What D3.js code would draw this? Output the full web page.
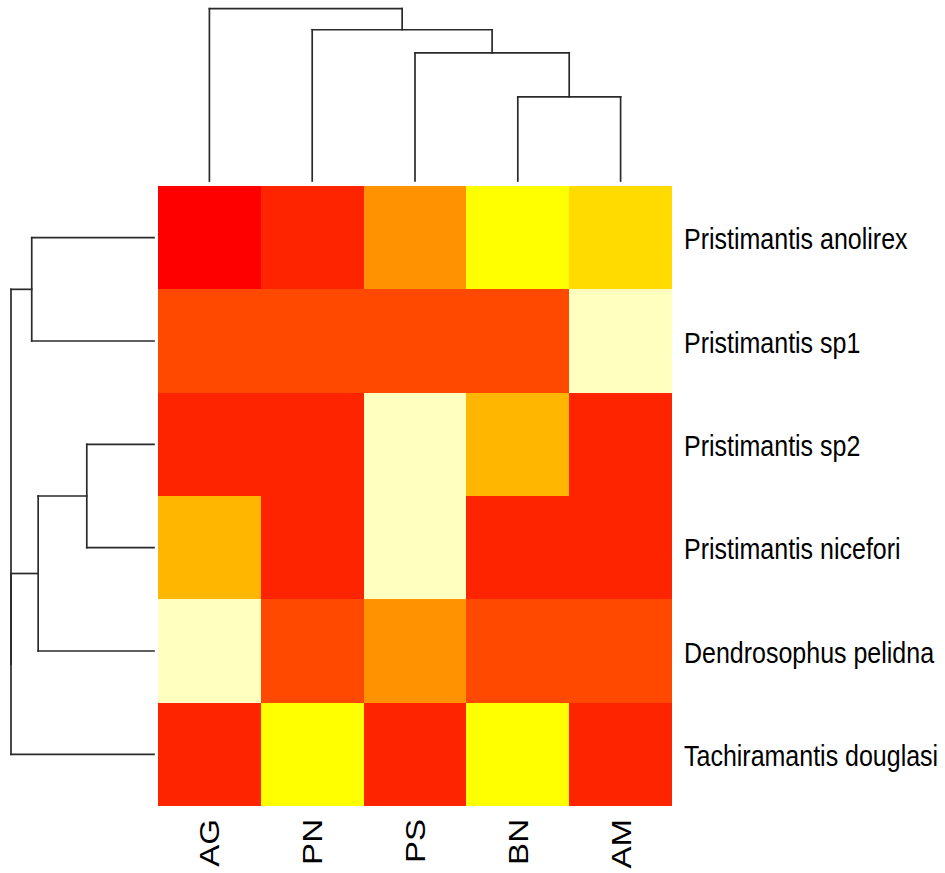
<!DOCTYPE html>
<html>
<head>
<meta charset="utf-8">
<script src="https://cdn.jsdelivr.net/npm/d3@7"></script>
<style>
  html, body { margin: 0; padding: 0; background: #fff; }
  svg { display: block; }
  text { font-family: "Liberation Sans", Arial, sans-serif; fill: #000; }
</style>
</head>
<body>
<svg id="chart" width="945" height="873"></svg>
<script>
// Species (rows) and sites (columns), in dendrogram order
const rows = [
  "Pristimantis anolirex",
  "Pristimantis sp1",
  "Pristimantis sp2",
  "Pristimantis nicefori",
  "Dendrosophus pelidna",
  "Tachiramantis douglasi"
];
const columns = ["AG", "PN", "PS", "BN", "AM"];

// Scaled abundance level per cell (1 = highest, 10 = lowest), one array per species
const anolirex   = [1, 2, 5, 8, 7];
const sp1        = [3, 3, 3, 3, 10];
const sp2        = [2, 2, 10, 6, 2];
const nicefori   = [6, 2, 10, 2, 2];
const pelidna    = [10, 3, 5, 3, 3];
const douglasi   = [2, 8, 2, 8, 2];
const values = [anolirex, sp1, sp2, nicefori, pelidna, douglasi];

// Hierarchical clustering, hclust-style merge tables:
// negative = leaf (1-based index), positive = earlier merge step
const rowMerge = [[-3, -4], [1, -5], [-1, -2], [2, -6], [3, 4]];
const rowHeights = [4.7, 8.1, 8.55, 10, 10];
const colMerge = [[-4, -5], [-3, 1], [-2, 2], [-1, 3]];
const colHeights = [8.4, 12.8, 15.1, 17.2];

// heat.colors(10) palette
const heatColors = ["#FF0000", "#FF2400", "#FF4900", "#FF6D00", "#FF9200",
                    "#FFB600", "#FFDB00", "#FFFF00", "#FFFF40", "#FFFFBF"];

const svg = d3.select("#chart");
svg.append("rect").attr("width", 945).attr("height", 873).attr("fill", "#fff");

const x = d3.scaleBand().domain(columns).range([158, 672]).padding(0);
const y = d3.scaleBand().domain(rows).range([186, 806]).padding(0);
const color = d3.scaleOrdinal().domain(d3.range(1, 11)).range(heatColors);

// Heatmap cells
const cells = [];
values.forEach((vals, i) => vals.forEach((v, j) => cells.push({ r: rows[i], c: columns[j], v })));
svg.append("g").selectAll("rect").data(cells).join("rect")
  .attr("x", d => x(d.c))
  .attr("y", d => y(d.r))
  .attr("width", x.bandwidth())
  .attr("height", y.bandwidth())
  .attr("fill", d => color(d.v))
  .attr("shape-rendering", "crispEdges");

// Dendrogram segments from a merge table (node sits midway between its children)
function buildDendro(merge, heights, leafPos) {
  const nodes = [];
  const segs = [];
  const get = k => k < 0 ? { pos: leafPos(-k - 1), h: 0 } : nodes[k - 1];
  merge.forEach((m, i) => {
    const a = get(m[0]), b = get(m[1]), h = heights[i];
    segs.push({ p1: a.pos, h1: a.h, p2: a.pos, h2: h });
    segs.push({ p1: a.pos, h1: h, p2: b.pos, h2: h });
    segs.push({ p1: b.pos, h1: h, p2: b.pos, h2: b.h });
    nodes.push({ pos: (a.pos + b.pos) / 2, h });
  });
  return segs;
}

const lineColor = "#2a2a2a";
const lineWidth = 1.7;

// Column dendrogram (top)
const colH = d3.scaleLinear().domain([0, d3.max(colHeights)]).range([181, 8.7]);
const colSegs = buildDendro(colMerge, colHeights, i => x(columns[i]) + x.bandwidth() / 2);
svg.append("g").selectAll("line").data(colSegs).join("line")
  .attr("x1", d => d.p1).attr("y1", d => colH(d.h1))
  .attr("x2", d => d.p2).attr("y2", d => colH(d.h2))
  .attr("stroke", lineColor).attr("stroke-width", lineWidth).attr("stroke-linecap", "square");

// Row dendrogram (left)
const rowH = d3.scaleLinear().domain([0, d3.max(rowHeights)]).range([154, 11]);
const rowSegs = buildDendro(rowMerge, rowHeights, i => y(rows[i]) + y.bandwidth() / 2);
svg.append("g").selectAll("line").data(rowSegs).join("line")
  .attr("x1", d => rowH(d.h1)).attr("y1", d => d.p1)
  .attr("x2", d => rowH(d.h2)).attr("y2", d => d.p2)
  .attr("stroke", lineColor).attr("stroke-width", lineWidth).attr("stroke-linecap", "square");

// Row labels (right side)
const rowFont = 25;
svg.append("g").selectAll("text").data(rows).join("text")
  .attr("transform", d => `translate(684,${y(d) + y.bandwidth() / 2 + 1}) scale(1,1.18)`)
  .attr("y", rowFont * 0.716 / 2)
  .attr("font-size", rowFont)
  .text(d => d);

// Column labels (bottom, rotated)
const colFont = 28;
svg.append("g").selectAll("text").data(columns).join("text")
  .attr("transform", d => `translate(${x(d) + x.bandwidth() / 2},819) rotate(-90) scale(1.18,1)`)
  .attr("y", colFont * 0.716 / 2)
  .attr("text-anchor", "end")
  .attr("font-size", colFont)
  .text(d => d);
</script>
</body>
</html>
